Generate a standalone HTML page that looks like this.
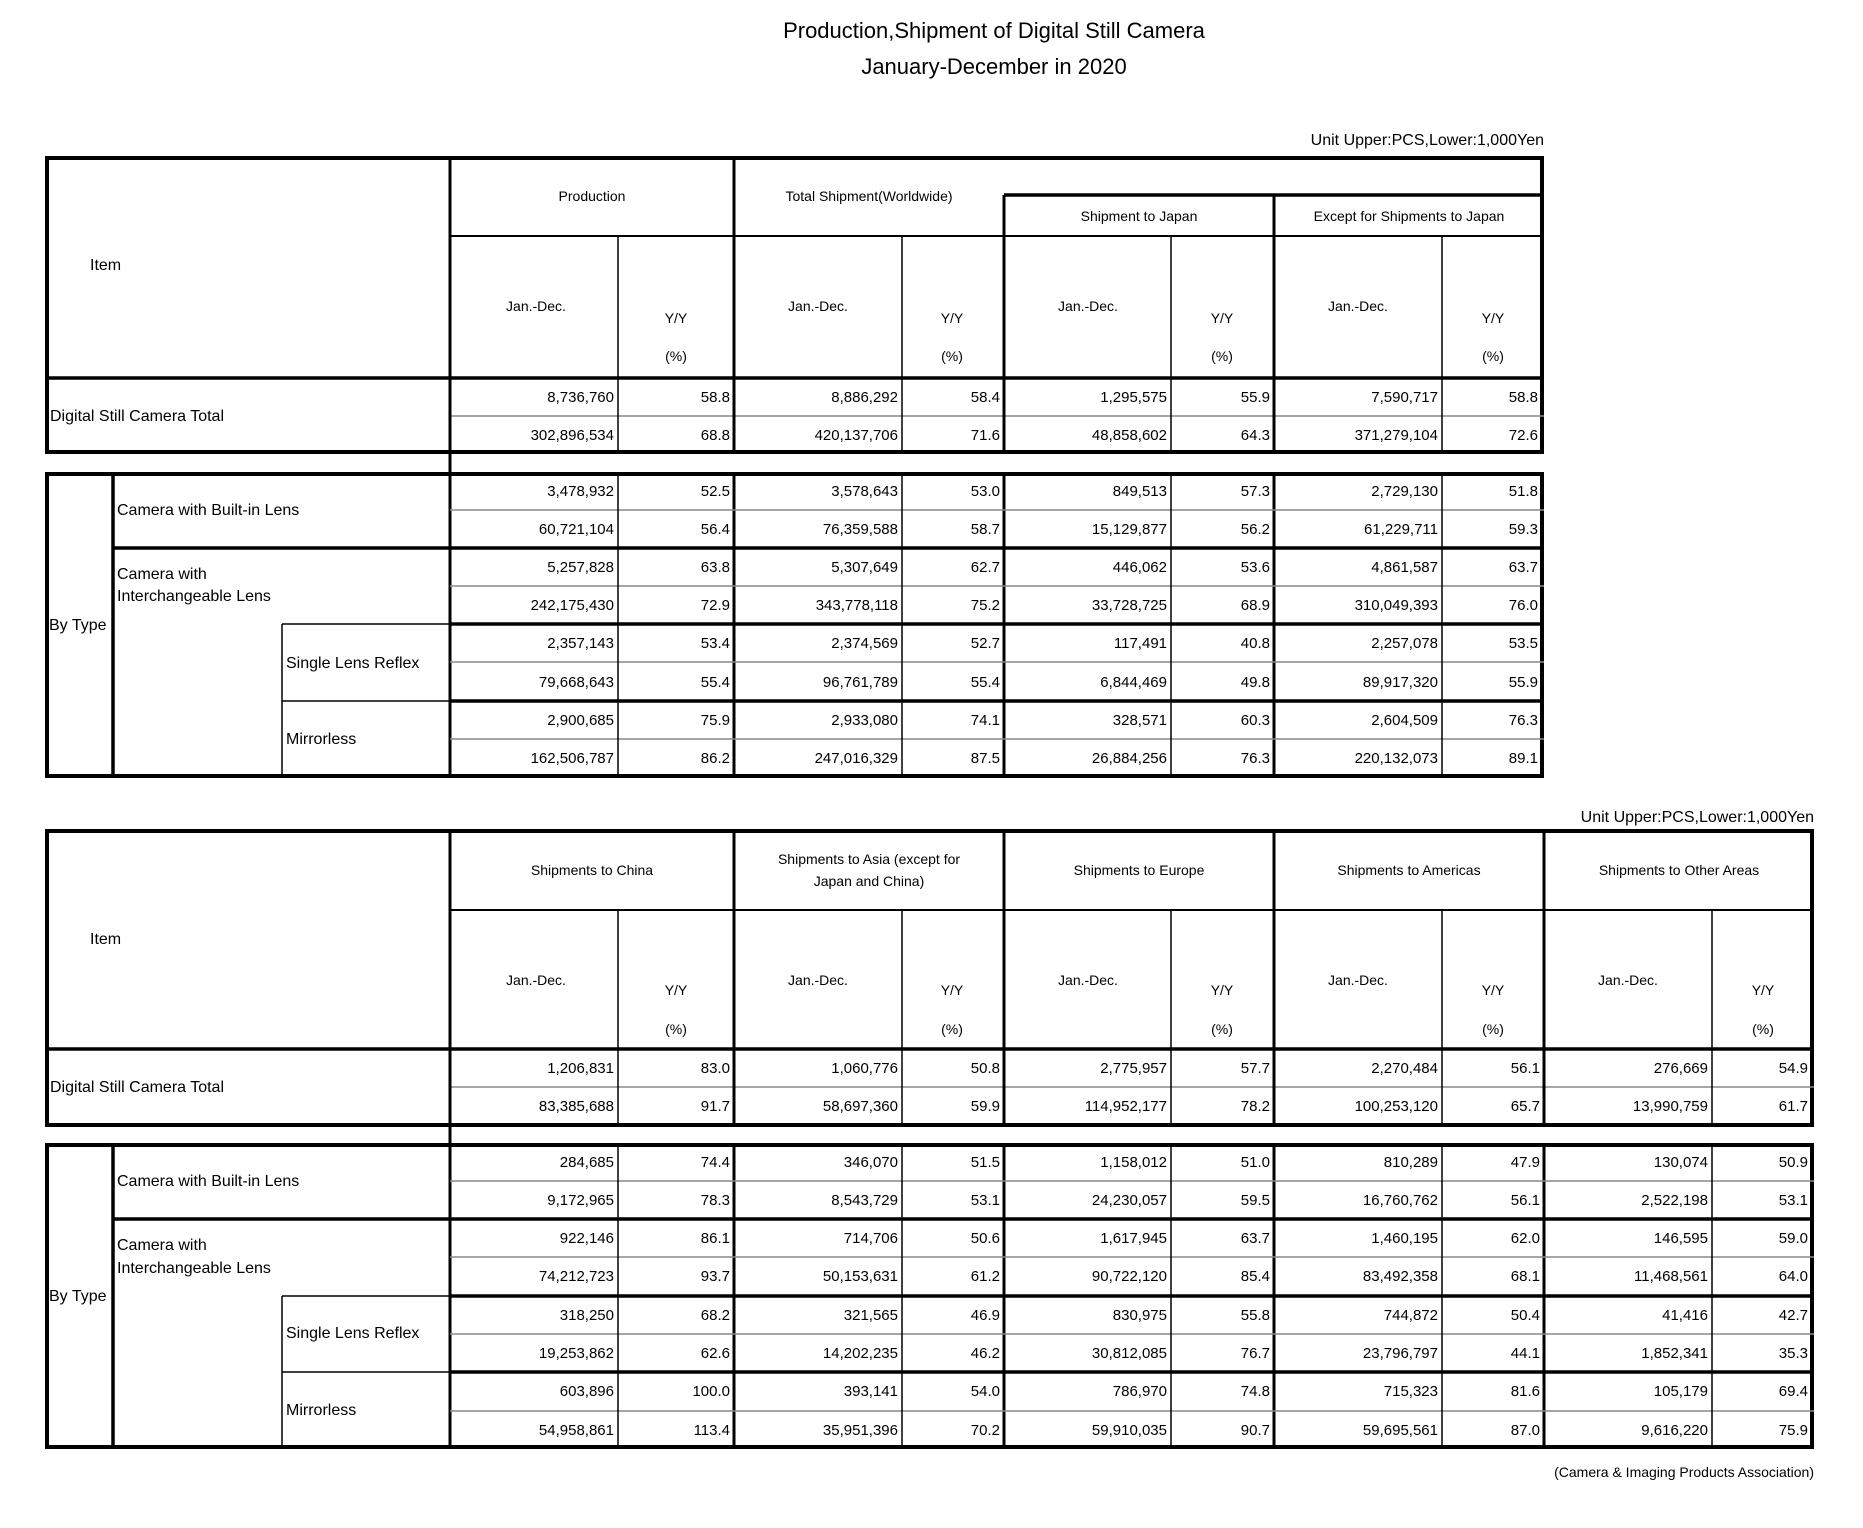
<!DOCTYPE html>
<html><head><meta charset="utf-8"><style>
html,body{margin:0;padding:0;background:#fff;width:1863px;height:1528px;overflow:hidden}
svg{display:block}
text{font-family:"Liberation Sans",sans-serif;fill:#000}
.n{font-size:15px;text-anchor:end}
.h{font-size:14px;text-anchor:middle}
.l{font-size:16px}
</style></head><body>
<svg width="1863" height="1528" viewBox="0 0 1863 1528">
<text x="994" y="38" font-size="22" text-anchor="middle">Production,Shipment of Digital Still Camera</text>
<text x="994" y="74" font-size="22" text-anchor="middle">January-December in 2020</text>
<text x="1544" y="145" font-size="16" text-anchor="end">Unit Upper:PCS,Lower:1,000Yen</text>
<text x="1814" y="822" font-size="16" text-anchor="end">Unit Upper:PCS,Lower:1,000Yen</text>
<text x="1814" y="1477" font-size="14" text-anchor="end">(Camera &amp; Imaging Products Association)</text>

<!-- TOP TABLE lines -->
<g stroke="#000" fill="none">
<rect x="47" y="158" width="1495" height="294" stroke-width="4"/>
<line x1="45" y1="378" x2="1544" y2="378" stroke-width="3.5"/>
<line x1="1004" y1="195" x2="1544" y2="195" stroke-width="3.5"/>
<line x1="450" y1="236" x2="1544" y2="236" stroke-width="2"/>
<line x1="450" y1="416" x2="1544" y2="416" stroke="#888" stroke-width="1.5"/>
<line x1="450" y1="156" x2="450" y2="778" stroke-width="3"/>
<line x1="734" y1="156" x2="734" y2="454" stroke-width="3"/>
<line x1="1004" y1="195" x2="1004" y2="454" stroke-width="3"/>
<line x1="1274" y1="195" x2="1274" y2="454" stroke-width="3"/>
<line x1="734" y1="472" x2="734" y2="778" stroke-width="3"/>
<line x1="1004" y1="472" x2="1004" y2="778" stroke-width="3"/>
<line x1="1274" y1="472" x2="1274" y2="778" stroke-width="3"/>
<line x1="618" y1="236" x2="618" y2="454" stroke-width="1.5"/>
<line x1="902" y1="236" x2="902" y2="454" stroke-width="1.5"/>
<line x1="1171" y1="236" x2="1171" y2="454" stroke-width="1.5"/>
<line x1="1442" y1="236" x2="1442" y2="454" stroke-width="1.5"/>
<rect x="47" y="474" width="1495" height="302" stroke-width="4"/>
<line x1="113" y1="472" x2="113" y2="778" stroke-width="3.5"/>
<line x1="282" y1="624" x2="282" y2="778" stroke-width="1.5"/>
<line x1="113" y1="548" x2="1544" y2="548" stroke-width="3.5"/>
<line x1="282" y1="624" x2="450" y2="624" stroke-width="1.5"/>
<line x1="450" y1="624" x2="1544" y2="624" stroke-width="3.5"/>
<line x1="282" y1="701" x2="450" y2="701" stroke-width="1.5"/>
<line x1="450" y1="701" x2="1544" y2="701" stroke-width="3.5"/>
<g stroke="#888" stroke-width="1.5">
<line x1="450" y1="510" x2="1544" y2="510"/><line x1="450" y1="586" x2="1544" y2="586"/>
<line x1="450" y1="662" x2="1544" y2="662"/><line x1="450" y1="739" x2="1544" y2="739"/>
</g>
<line x1="618" y1="472" x2="618" y2="778" stroke-width="1.5"/>
<line x1="902" y1="472" x2="902" y2="778" stroke-width="1.5"/>
<line x1="1171" y1="472" x2="1171" y2="778" stroke-width="1.5"/>
<line x1="1442" y1="472" x2="1442" y2="778" stroke-width="1.5"/>
</g>

<!-- TOP TABLE header text -->
<text x="90" y="270" class="l">Item</text>
<text x="592" y="201" class="h">Production</text>
<text x="869" y="201" class="h">Total Shipment(Worldwide)</text>
<text x="1139" y="221" class="h">Shipment to Japan</text>
<text x="1409" y="221" class="h">Except for Shipments to Japan</text>
<text x="536" y="311" class="h">Jan.-Dec.</text><text x="676" y="323" class="h">Y/Y</text><text x="676" y="361" class="h">(%)</text>
<text x="818" y="311" class="h">Jan.-Dec.</text><text x="952" y="323" class="h">Y/Y</text><text x="952" y="361" class="h">(%)</text>
<text x="1088" y="311" class="h">Jan.-Dec.</text><text x="1222" y="323" class="h">Y/Y</text><text x="1222" y="361" class="h">(%)</text>
<text x="1358" y="311" class="h">Jan.-Dec.</text><text x="1493" y="323" class="h">Y/Y</text><text x="1493" y="361" class="h">(%)</text>
<text x="50" y="421" class="l">Digital Still Camera Total</text>
<text x="117" y="515" class="l">Camera with Built-in Lens</text>
<text x="117" y="579" class="l">Camera with</text>
<text x="117" y="601" class="l">Interchangeable Lens</text>
<text x="49" y="630" class="l">By Type</text>
<text x="286" y="668" class="l">Single Lens Reflex</text>
<text x="286" y="744" class="l">Mirrorless</text>

<!-- TOP TABLE data -->
<g>
<text class="n" x="614" y="402">8,736,760</text><text class="n" x="730" y="402">58.8</text><text class="n" x="898" y="402">8,886,292</text><text class="n" x="1000" y="402">58.4</text><text class="n" x="1167" y="402">1,295,575</text><text class="n" x="1270" y="402">55.9</text><text class="n" x="1438" y="402">7,590,717</text><text class="n" x="1538" y="402">58.8</text>
<text class="n" x="614" y="440">302,896,534</text><text class="n" x="730" y="440">68.8</text><text class="n" x="898" y="440">420,137,706</text><text class="n" x="1000" y="440">71.6</text><text class="n" x="1167" y="440">48,858,602</text><text class="n" x="1270" y="440">64.3</text><text class="n" x="1438" y="440">371,279,104</text><text class="n" x="1538" y="440">72.6</text>
<text class="n" x="614" y="496">3,478,932</text><text class="n" x="730" y="496">52.5</text><text class="n" x="898" y="496">3,578,643</text><text class="n" x="1000" y="496">53.0</text><text class="n" x="1167" y="496">849,513</text><text class="n" x="1270" y="496">57.3</text><text class="n" x="1438" y="496">2,729,130</text><text class="n" x="1538" y="496">51.8</text>
<text class="n" x="614" y="534">60,721,104</text><text class="n" x="730" y="534">56.4</text><text class="n" x="898" y="534">76,359,588</text><text class="n" x="1000" y="534">58.7</text><text class="n" x="1167" y="534">15,129,877</text><text class="n" x="1270" y="534">56.2</text><text class="n" x="1438" y="534">61,229,711</text><text class="n" x="1538" y="534">59.3</text>
<text class="n" x="614" y="572">5,257,828</text><text class="n" x="730" y="572">63.8</text><text class="n" x="898" y="572">5,307,649</text><text class="n" x="1000" y="572">62.7</text><text class="n" x="1167" y="572">446,062</text><text class="n" x="1270" y="572">53.6</text><text class="n" x="1438" y="572">4,861,587</text><text class="n" x="1538" y="572">63.7</text>
<text class="n" x="614" y="610">242,175,430</text><text class="n" x="730" y="610">72.9</text><text class="n" x="898" y="610">343,778,118</text><text class="n" x="1000" y="610">75.2</text><text class="n" x="1167" y="610">33,728,725</text><text class="n" x="1270" y="610">68.9</text><text class="n" x="1438" y="610">310,049,393</text><text class="n" x="1538" y="610">76.0</text>
<text class="n" x="614" y="648">2,357,143</text><text class="n" x="730" y="648">53.4</text><text class="n" x="898" y="648">2,374,569</text><text class="n" x="1000" y="648">52.7</text><text class="n" x="1167" y="648">117,491</text><text class="n" x="1270" y="648">40.8</text><text class="n" x="1438" y="648">2,257,078</text><text class="n" x="1538" y="648">53.5</text>
<text class="n" x="614" y="687">79,668,643</text><text class="n" x="730" y="687">55.4</text><text class="n" x="898" y="687">96,761,789</text><text class="n" x="1000" y="687">55.4</text><text class="n" x="1167" y="687">6,844,469</text><text class="n" x="1270" y="687">49.8</text><text class="n" x="1438" y="687">89,917,320</text><text class="n" x="1538" y="687">55.9</text>
<text class="n" x="614" y="725">2,900,685</text><text class="n" x="730" y="725">75.9</text><text class="n" x="898" y="725">2,933,080</text><text class="n" x="1000" y="725">74.1</text><text class="n" x="1167" y="725">328,571</text><text class="n" x="1270" y="725">60.3</text><text class="n" x="1438" y="725">2,604,509</text><text class="n" x="1538" y="725">76.3</text>
<text class="n" x="614" y="763">162,506,787</text><text class="n" x="730" y="763">86.2</text><text class="n" x="898" y="763">247,016,329</text><text class="n" x="1000" y="763">87.5</text><text class="n" x="1167" y="763">26,884,256</text><text class="n" x="1270" y="763">76.3</text><text class="n" x="1438" y="763">220,132,073</text><text class="n" x="1538" y="763">89.1</text>
</g>

<!-- BOTTOM TABLE lines -->
<g stroke="#000" fill="none">
<rect x="47" y="831" width="1765" height="294" stroke-width="4"/>
<line x1="45" y1="1049" x2="1814" y2="1049" stroke-width="3.5"/>
<line x1="450" y1="910" x2="1814" y2="910" stroke-width="2"/>
<line x1="450" y1="1087" x2="1814" y2="1087" stroke="#888" stroke-width="1.5"/>
<line x1="450" y1="829" x2="450" y2="1449" stroke-width="3"/>
<line x1="734" y1="829" x2="734" y2="1125" stroke-width="3"/>
<line x1="1004" y1="829" x2="1004" y2="1125" stroke-width="3"/>
<line x1="1274" y1="829" x2="1274" y2="1125" stroke-width="3"/>
<line x1="1544" y1="829" x2="1544" y2="1125" stroke-width="3"/>
<line x1="734" y1="1143" x2="734" y2="1449" stroke-width="3"/>
<line x1="1004" y1="1143" x2="1004" y2="1449" stroke-width="3"/>
<line x1="1274" y1="1143" x2="1274" y2="1449" stroke-width="3"/>
<line x1="1544" y1="1143" x2="1544" y2="1449" stroke-width="3"/>
<line x1="618" y1="910" x2="618" y2="1125" stroke-width="1.5"/>
<line x1="902" y1="910" x2="902" y2="1125" stroke-width="1.5"/>
<line x1="1171" y1="910" x2="1171" y2="1125" stroke-width="1.5"/>
<line x1="1442" y1="910" x2="1442" y2="1125" stroke-width="1.5"/>
<line x1="1712" y1="910" x2="1712" y2="1125" stroke-width="1.5"/>
<rect x="47" y="1145" width="1765" height="302" stroke-width="4"/>
<line x1="113" y1="1143" x2="113" y2="1449" stroke-width="3.5"/>
<line x1="282" y1="1296" x2="282" y2="1449" stroke-width="1.5"/>
<line x1="113" y1="1219" x2="1814" y2="1219" stroke-width="3.5"/>
<line x1="282" y1="1296" x2="450" y2="1296" stroke-width="1.5"/>
<line x1="450" y1="1296" x2="1814" y2="1296" stroke-width="3.5"/>
<line x1="282" y1="1372" x2="450" y2="1372" stroke-width="1.5"/>
<line x1="450" y1="1372" x2="1814" y2="1372" stroke-width="3.5"/>
<g stroke="#888" stroke-width="1.5">
<line x1="450" y1="1181" x2="1814" y2="1181"/><line x1="450" y1="1257" x2="1814" y2="1257"/>
<line x1="450" y1="1334" x2="1814" y2="1334"/><line x1="450" y1="1411" x2="1814" y2="1411"/>
</g>
<line x1="618" y1="1143" x2="618" y2="1449" stroke-width="1.5"/>
<line x1="902" y1="1143" x2="902" y2="1449" stroke-width="1.5"/>
<line x1="1171" y1="1143" x2="1171" y2="1449" stroke-width="1.5"/>
<line x1="1442" y1="1143" x2="1442" y2="1449" stroke-width="1.5"/>
<line x1="1712" y1="1143" x2="1712" y2="1449" stroke-width="1.5"/>
</g>

<!-- BOTTOM header text -->
<text x="90" y="944" class="l">Item</text>
<text x="592" y="875" class="h">Shipments to China</text>
<text x="869" y="864" class="h">Shipments to Asia (except for</text>
<text x="869" y="886" class="h">Japan and China)</text>
<text x="1139" y="875" class="h">Shipments to Europe</text>
<text x="1409" y="875" class="h">Shipments to Americas</text>
<text x="1679" y="875" class="h">Shipments to Other Areas</text>
<text x="536" y="985" class="h">Jan.-Dec.</text><text x="676" y="995" class="h">Y/Y</text><text x="676" y="1034" class="h">(%)</text>
<text x="818" y="985" class="h">Jan.-Dec.</text><text x="952" y="995" class="h">Y/Y</text><text x="952" y="1034" class="h">(%)</text>
<text x="1088" y="985" class="h">Jan.-Dec.</text><text x="1222" y="995" class="h">Y/Y</text><text x="1222" y="1034" class="h">(%)</text>
<text x="1358" y="985" class="h">Jan.-Dec.</text><text x="1493" y="995" class="h">Y/Y</text><text x="1493" y="1034" class="h">(%)</text>
<text x="1628" y="985" class="h">Jan.-Dec.</text><text x="1763" y="995" class="h">Y/Y</text><text x="1763" y="1034" class="h">(%)</text>
<text x="50" y="1092" class="l">Digital Still Camera Total</text>
<text x="117" y="1186" class="l">Camera with Built-in Lens</text>
<text x="117" y="1250" class="l">Camera with</text>
<text x="117" y="1273" class="l">Interchangeable Lens</text>
<text x="49" y="1301" class="l">By Type</text>
<text x="286" y="1338" class="l">Single Lens Reflex</text>
<text x="286" y="1415" class="l">Mirrorless</text>

<!-- BOTTOM data -->
<g>
<text class="n" x="614" y="1073">1,206,831</text><text class="n" x="730" y="1073">83.0</text><text class="n" x="898" y="1073">1,060,776</text><text class="n" x="1000" y="1073">50.8</text><text class="n" x="1167" y="1073">2,775,957</text><text class="n" x="1270" y="1073">57.7</text><text class="n" x="1438" y="1073">2,270,484</text><text class="n" x="1540" y="1073">56.1</text><text class="n" x="1708" y="1073">276,669</text><text class="n" x="1808" y="1073">54.9</text>
<text class="n" x="614" y="1111">83,385,688</text><text class="n" x="730" y="1111">91.7</text><text class="n" x="898" y="1111">58,697,360</text><text class="n" x="1000" y="1111">59.9</text><text class="n" x="1167" y="1111">114,952,177</text><text class="n" x="1270" y="1111">78.2</text><text class="n" x="1438" y="1111">100,253,120</text><text class="n" x="1540" y="1111">65.7</text><text class="n" x="1708" y="1111">13,990,759</text><text class="n" x="1808" y="1111">61.7</text>
<text class="n" x="614" y="1167">284,685</text><text class="n" x="730" y="1167">74.4</text><text class="n" x="898" y="1167">346,070</text><text class="n" x="1000" y="1167">51.5</text><text class="n" x="1167" y="1167">1,158,012</text><text class="n" x="1270" y="1167">51.0</text><text class="n" x="1438" y="1167">810,289</text><text class="n" x="1540" y="1167">47.9</text><text class="n" x="1708" y="1167">130,074</text><text class="n" x="1808" y="1167">50.9</text>
<text class="n" x="614" y="1205">9,172,965</text><text class="n" x="730" y="1205">78.3</text><text class="n" x="898" y="1205">8,543,729</text><text class="n" x="1000" y="1205">53.1</text><text class="n" x="1167" y="1205">24,230,057</text><text class="n" x="1270" y="1205">59.5</text><text class="n" x="1438" y="1205">16,760,762</text><text class="n" x="1540" y="1205">56.1</text><text class="n" x="1708" y="1205">2,522,198</text><text class="n" x="1808" y="1205">53.1</text>
<text class="n" x="614" y="1243">922,146</text><text class="n" x="730" y="1243">86.1</text><text class="n" x="898" y="1243">714,706</text><text class="n" x="1000" y="1243">50.6</text><text class="n" x="1167" y="1243">1,617,945</text><text class="n" x="1270" y="1243">63.7</text><text class="n" x="1438" y="1243">1,460,195</text><text class="n" x="1540" y="1243">62.0</text><text class="n" x="1708" y="1243">146,595</text><text class="n" x="1808" y="1243">59.0</text>
<text class="n" x="614" y="1281">74,212,723</text><text class="n" x="730" y="1281">93.7</text><text class="n" x="898" y="1281">50,153,631</text><text class="n" x="1000" y="1281">61.2</text><text class="n" x="1167" y="1281">90,722,120</text><text class="n" x="1270" y="1281">85.4</text><text class="n" x="1438" y="1281">83,492,358</text><text class="n" x="1540" y="1281">68.1</text><text class="n" x="1708" y="1281">11,468,561</text><text class="n" x="1808" y="1281">64.0</text>
<text class="n" x="614" y="1320">318,250</text><text class="n" x="730" y="1320">68.2</text><text class="n" x="898" y="1320">321,565</text><text class="n" x="1000" y="1320">46.9</text><text class="n" x="1167" y="1320">830,975</text><text class="n" x="1270" y="1320">55.8</text><text class="n" x="1438" y="1320">744,872</text><text class="n" x="1540" y="1320">50.4</text><text class="n" x="1708" y="1320">41,416</text><text class="n" x="1808" y="1320">42.7</text>
<text class="n" x="614" y="1358">19,253,862</text><text class="n" x="730" y="1358">62.6</text><text class="n" x="898" y="1358">14,202,235</text><text class="n" x="1000" y="1358">46.2</text><text class="n" x="1167" y="1358">30,812,085</text><text class="n" x="1270" y="1358">76.7</text><text class="n" x="1438" y="1358">23,796,797</text><text class="n" x="1540" y="1358">44.1</text><text class="n" x="1708" y="1358">1,852,341</text><text class="n" x="1808" y="1358">35.3</text>
<text class="n" x="614" y="1396">603,896</text><text class="n" x="730" y="1396">100.0</text><text class="n" x="898" y="1396">393,141</text><text class="n" x="1000" y="1396">54.0</text><text class="n" x="1167" y="1396">786,970</text><text class="n" x="1270" y="1396">74.8</text><text class="n" x="1438" y="1396">715,323</text><text class="n" x="1540" y="1396">81.6</text><text class="n" x="1708" y="1396">105,179</text><text class="n" x="1808" y="1396">69.4</text>
<text class="n" x="614" y="1435">54,958,861</text><text class="n" x="730" y="1435">113.4</text><text class="n" x="898" y="1435">35,951,396</text><text class="n" x="1000" y="1435">70.2</text><text class="n" x="1167" y="1435">59,910,035</text><text class="n" x="1270" y="1435">90.7</text><text class="n" x="1438" y="1435">59,695,561</text><text class="n" x="1540" y="1435">87.0</text><text class="n" x="1708" y="1435">9,616,220</text><text class="n" x="1808" y="1435">75.9</text>
</g>
</svg>
</body></html>
